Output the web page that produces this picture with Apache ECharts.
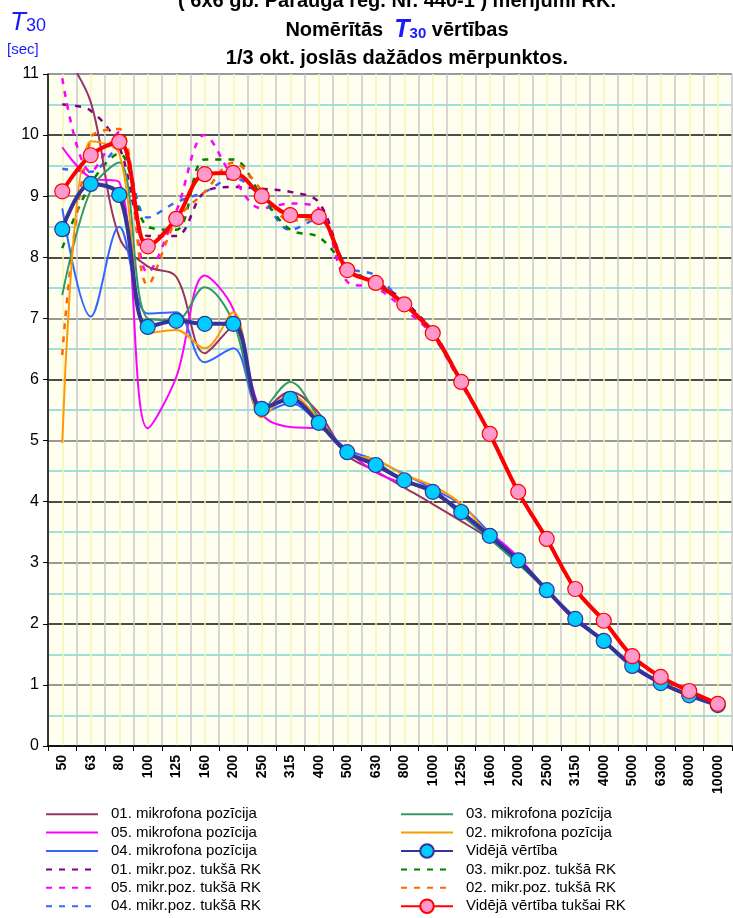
<!DOCTYPE html>
<html>
<head>
<meta charset="utf-8">
<title>T30</title>
<script src="https://cdn.jsdelivr.net/npm/echarts@6/dist/echarts.min.js"></script>
<style>
  html, body { margin: 0; padding: 0; background: #fff; }
  #chart { width: 733px; height: 918px; }
</style>
</head>
<body>
<div id="chart"></div>
<script>
// frekvences (1/3 okt.)
const freqs = ['50', '63', '80', '100', '125', '160', '200', '250', '315', '400', '500', '630',
  '800', '1000', '1250', '1600', '2000', '2500', '3150', '4000', '5000', '6300', '8000', '10000'];

// mērījumi RK
const mic01 = [11.4, 10.54, 8.33, 7.85, 7.68, 6.43, 6.86, 5.47, 5.8, 5.45, 4.76, 4.50, 4.23, 3.96, 3.68, 3.39, 3.04, 2.57, 2.08, 1.72, 1.31, 1.03, 0.83, 0.66];
const mic05 = [9.8, 9.3, 9.23, 5.2, 6.04, 7.7, 7.15, 5.45, 5.22, 5.2, 4.83, 4.48, 4.30, 4.21, 3.78, 3.49, 3.09, 2.55, 2.05, 1.74, 1.29, 1.03, 0.84, 0.67];
const mic04 = [8.8, 7.03, 8.5, 7.08, 7.1, 6.28, 6.51, 5.45, 5.61, 5.29, 4.86, 4.68, 4.45, 4.21, 3.95, 3.49, 3.04, 2.53, 2.11, 1.72, 1.33, 1.04, 0.83, 0.67];
const mic03 = [7.38, 9.1, 9.55, 7.0, 6.97, 7.51, 6.94, 5.5, 5.96, 5.38, 4.81, 4.65, 4.33, 4.16, 3.78, 3.39, 2.98, 2.55, 2.08, 1.70, 1.31, 1.03, 0.83, 0.67];
const mic02 = [4.96, 9.9, 9.7, 6.76, 6.81, 6.51, 7.1, 5.38, 5.75, 5.35, 4.79, 4.69, 4.44, 4.26, 3.96, 3.44, 3.05, 2.57, 2.08, 1.72, 1.31, 1.02, 0.82, 0.68];
const avg = [8.46, 9.20, 9.02, 6.86, 6.96, 6.91, 6.91, 5.52, 5.68, 5.29, 4.81, 4.60, 4.35, 4.16, 3.83, 3.44, 3.04, 2.55, 2.08, 1.72, 1.31, 1.03, 0.83, 0.67];

// tukšā RK
const empty01 = [10.5, 10.4, 9.8, 8.35, 8.35, 9.07, 9.15, 9.12, 9.07, 8.9, 7.82, 7.6, 7.28, 6.78, 5.98, 5.1, 4.15, 3.37, 2.56, 2.05, 1.48, 1.14, 0.9, 0.69];
const empty05 = [10.93, 9.4, 10.05, 7.75, 8.75, 10.0, 9.3, 8.8, 8.88, 8.8, 7.6, 7.5, 7.15, 6.72, 5.92, 5.12, 4.18, 3.4, 2.58, 2.04, 1.46, 1.12, 0.9, 0.7];
const empty04 = [9.45, 9.4, 9.8, 8.65, 8.9, 9.07, 9.3, 8.98, 8.45, 8.63, 7.85, 7.7, 7.22, 6.8, 5.95, 5.12, 4.17, 3.4, 2.57, 2.06, 1.47, 1.13, 0.9, 0.69];
const empty03 = [8.15, 9.2, 9.7, 8.5, 8.45, 9.6, 9.6, 9.0, 8.45, 8.33, 7.85, 7.55, 7.25, 6.74, 5.97, 5.1, 4.15, 3.38, 2.57, 2.05, 1.47, 1.13, 0.9, 0.69];
const empty02 = [6.4, 9.95, 10.1, 7.55, 8.6, 9.07, 9.55, 9.1, 8.6, 8.63, 7.83, 7.55, 7.25, 6.76, 5.98, 5.1, 4.15, 3.4, 2.57, 2.05, 1.47, 1.13, 0.9, 0.69];
const avgEmpty = [9.08, 9.67, 9.89, 8.18, 8.63, 9.36, 9.38, 9.00, 8.69, 8.66, 7.79, 7.58, 7.23, 6.76, 5.96, 5.11, 4.16, 3.39, 2.57, 2.05, 1.47, 1.13, 0.90, 0.69];

const FONT = 'Liberation Sans, Arial, sans-serif';
const SMOOTH = 0.35;

function solid(name, data, color) {
  return {
    name: name, type: 'line', data: data, smooth: SMOOTH, symbol: 'none',
    itemStyle: { color: color },
    lineStyle: { color: color, width: 2 }, z: 3
  };
}
function dashed(name, data, color) {
  return {
    name: name, type: 'line', data: data, smooth: SMOOTH, symbol: 'none',
    itemStyle: { color: color },
    lineStyle: { color: color, width: 2.5, type: [6, 7] }, z: 2
  };
}
function average(name, data, lineColor, fill) {
  return {
    name: name, type: 'line', data: data, smooth: SMOOTH,
    symbol: 'circle', symbolSize: 15, showAllSymbol: true,
    itemStyle: { color: fill, borderColor: lineColor, borderWidth: 1.2 },
    lineStyle: { color: lineColor, width: 4 }, z: 5
  };
}
// legend entry for a plain line: hide the dot that echarts puts on line icons
function plain(name) {
  return { name: name, itemStyle: { opacity: 0 } };
}

const chart = echarts.init(document.getElementById('chart'), null, { renderer: 'canvas' });

const legendCommon = {
  orient: 'vertical', itemWidth: 52, itemHeight: 17, itemGap: 0, padding: 0,
  textStyle: { fontFamily: FONT, fontSize: 15, color: '#000', lineHeight: 18.4, padding: [0, 0, 0, 8] }
};

const option = {
  animation: false,
  backgroundColor: '#fff',
  textStyle: { fontFamily: FONT },
  grid: { left: 48, right: 1, top: 74, bottom: 172, show: true, backgroundColor: '#fffff0', borderWidth: 0 },
  graphic: [
    { type: 'text', x: 397, y: 1, style: { text: '( 6x6 gb. Parauga reģ. Nr. 440-1 ) mērījumi RK.', align: 'center', verticalAlign: 'middle', font: 'bold 20px ' + FONT, fill: '#000' } },
    { type: 'text', x: 397, y: 30, style: {
      text: 'Nomērītās  {t|T}{s|30} vērtības', align: 'center', verticalAlign: 'middle',
      font: 'bold 20px ' + FONT, fill: '#000',
      rich: {
        t: { fontFamily: FONT, fontSize: 25, fontStyle: 'italic', fontWeight: 'bold', fill: '#1a1aff', color: '#1a1aff' },
        s: { fontFamily: FONT, fontSize: 15, fontWeight: 'bold', fill: '#1a1aff', color: '#1a1aff', padding: [7, 0, 0, 0] }
      }
    } },
    { type: 'text', x: 397, y: 58, style: { text: '1/3 okt. joslās dažādos mērpunktos.', align: 'center', verticalAlign: 'middle', font: 'bold 20px ' + FONT, fill: '#000' } },
    { type: 'text', x: 10, y: 23, style: {
      text: '{t|T}{s|30}', verticalAlign: 'middle',
      rich: {
        t: { fontFamily: FONT, fontSize: 26, fontStyle: 'italic', fill: '#1a1aff', color: '#1a1aff' },
        s: { fontFamily: FONT, fontSize: 18, fill: '#1a1aff', color: '#1a1aff', padding: [6, 0, 0, 0] }
      }
    } },
    { type: 'text', x: 7, y: 50, style: { text: '[sec]', verticalAlign: 'middle', font: '15px ' + FONT, fill: '#1a1aff' } }
  ],
  legend: [
    Object.assign({}, legendCommon, {
      left: 45, top: 805,
      data: [plain('01. mikrofona pozīcija'), plain('05. mikrofona pozīcija'), plain('04. mikrofona pozīcija'),
        plain('01. mikr.poz. tukšā RK'), plain('05. mikr.poz. tukšā RK'), plain('04. mikr.poz. tukšā RK')]
    }),
    Object.assign({}, legendCommon, {
      left: 400, top: 805,
      data: [plain('03. mikrofona pozīcija'), plain('02. mikrofona pozīcija'), 'Vidējā vērtība',
        plain('03. mikr.poz. tukšā RK'), plain('02. mikr.poz. tukšā RK'), 'Vidējā vērtība tukšai RK']
    })
  ],
  xAxis: [
    {
      type: 'category', data: freqs, boundaryGap: true,
      axisLine: { lineStyle: { color: '#000', width: 1.5 } },
      axisTick: { show: true, length: 5, lineStyle: { color: '#000' } },
      axisLabel: { rotate: 90, color: '#000', fontWeight: 'bold', fontSize: 14, fontFamily: FONT, margin: 9, interval: 0 },
      splitLine: { show: false }
    },
    {
      // helper axis for the vertical grid: grey at band edges, pale yellow at band centres
      type: 'value', min: 0, max: 48, interval: 1, position: 'bottom',
      axisLine: { show: false }, axisTick: { show: false }, axisLabel: { show: false },
      splitLine: { show: true, lineStyle: { color: ['#c8c8c8', '#f6f6b8'], width: 1.5 } }
    }
  ],
  yAxis: [
    {
      type: 'value', min: 0, max: 11, interval: 1, position: 'left',
      axisLine: { show: true, lineStyle: { color: '#000', width: 1.5 } },
      axisTick: { show: true, length: 5, lineStyle: { color: '#000' } },
      axisLabel: { color: '#000', fontSize: 16, fontFamily: FONT, margin: 9 },
      splitLine: { show: false }
    },
    {
      // helper axis for horizontal grid: dark at whole seconds, cyan at halves
      type: 'value', min: 0, max: 11, interval: 0.5, position: 'left',
      axisLine: { show: false }, axisTick: { show: false }, axisLabel: { show: false },
      splitLine: { show: true, lineStyle: { color: ['#111', '#80d6d6', '#777', '#80d6d6'], width: 1.5 } }
    }
  ],
  series: [
    solid('01. mikrofona pozīcija', mic01, '#993366'),
    solid('05. mikrofona pozīcija', mic05, '#ff00ff'),
    solid('04. mikrofona pozīcija', mic04, '#3366ff'),
    solid('03. mikrofona pozīcija', mic03, '#339966'),
    solid('02. mikrofona pozīcija', mic02, '#ff9900'),
    dashed('01. mikr.poz. tukšā RK', empty01, '#800080'),
    dashed('05. mikr.poz. tukšā RK', empty05, '#ff00ff'),
    dashed('04. mikr.poz. tukšā RK', empty04, '#3366ff'),
    dashed('03. mikr.poz. tukšā RK', empty03, '#008000'),
    dashed('02. mikr.poz. tukšā RK', empty02, '#ff6600'),
    average('Vidējā vērtība', avg, '#333399', '#00ccff'),
    average('Vidējā vērtība tukšai RK', avgEmpty, '#ff0000', '#ff99cc')
  ]
};

chart.setOption(option);
</script>
</body>
</html>
